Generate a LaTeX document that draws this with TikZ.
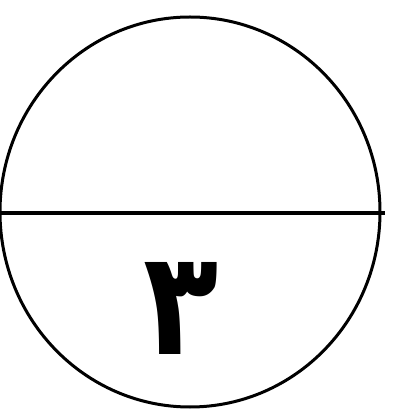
\documentclass[tikz,border=0pt]{standalone}
\usepackage{fontspec}
\newfontfamily\arabicfont[Script=Arabic]{DejaVu Sans}
\TeXXeTstate=1
\begin{document}
\begin{tikzpicture}[x=1pt,y=1pt,
  outline/.style={draw=black,line width=3pt},
  diam/.style={draw=black,line width=4pt}]
\useasboundingbox (0,0) rectangle (420,412);
\draw[outline] (190,200) ellipse [x radius=190, y radius=195];
\coordinate (L) at (0,199);
\coordinate (R) at (385,199);
\draw[diam] (L) -- (R);
\node[inner sep=0pt,anchor=center,xscale=0.85] (num) at (181,104) {\arabicfont\bfseries\fontsize{145}{145}\selectfont\beginR ٣\endR};
\end{tikzpicture}
\end{document}
